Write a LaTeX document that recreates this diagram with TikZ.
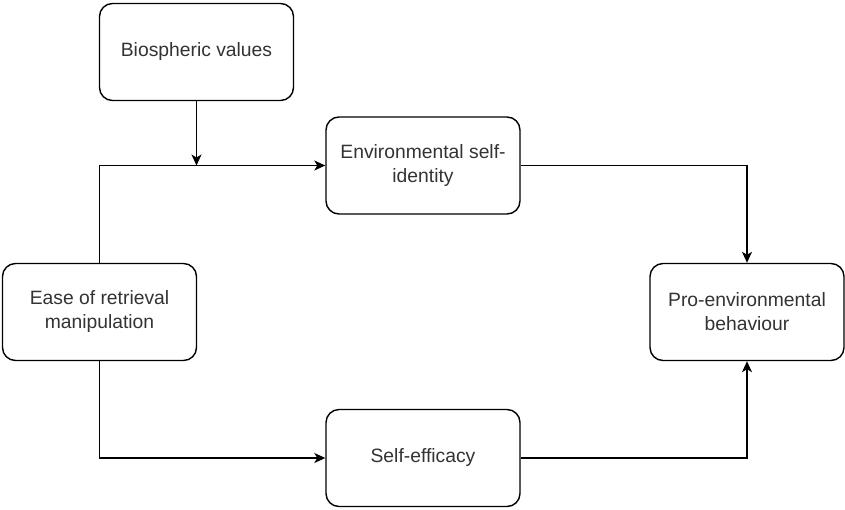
\documentclass[tikz,border=0pt]{standalone}
\usepackage{fontspec}
\setmainfont{Liberation Sans}
\usetikzlibrary{arrows.meta}
\definecolor{txt}{HTML}{333333}
\tikzset{
  box/.style={draw=black, line width=1.4pt, rounded corners=13pt, fill=white,
    minimum width=194pt, minimum height=97pt, inner sep=0pt, align=center,
    text=txt, font=\fontsize{19.3pt}{24pt}\selectfont},
  arr/.style={draw=black, line width=1.4pt, -{Stealth[length=11pt,width=10pt,inset=3pt]}}
}
\begin{document}
\begin{tikzpicture}[x=1pt,y=-1pt]
\useasboundingbox (0,0) rectangle (845,509);
\node[box] (bio)  at (196.5,52)  {Biospheric values};
\node[box] (env)  at (423,165.5) {Environmental self-\\identity};
\node[box] (pro)  at (747,312)   {Pro-environmental\\behaviour};
\node[box] (ease) at (99.5,312)  {Ease of retrieval\\manipulation};
\node[box] (se)   at (423,458)   {Self-efficacy};
\draw[arr] (bio.south) -- (bio.south |- env.west);
\draw[arr] (ease.north) |- (env.west);
\draw[arr] (env.east) -| (pro.north);
\draw[arr] (ease.south) |- (se.west);
\draw[arr] (se.east) -| (pro.south);
\end{tikzpicture}
\end{document}
